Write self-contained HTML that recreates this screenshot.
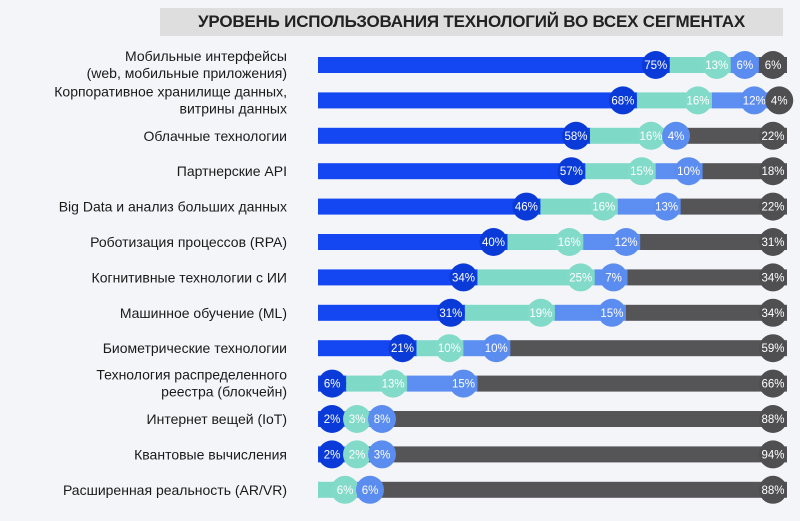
<!DOCTYPE html>
<html><head><meta charset="utf-8"><style>
body{margin:0;width:800px;height:521px;background:#f3f5f9;font-family:"Liberation Sans","Noto Sans CJK SC",sans-serif;overflow:hidden;position:relative}
#title{position:absolute;left:160px;top:8px;width:623px;height:28px;background:#dedede;font-weight:bold;font-size:17px;line-height:28px;text-align:center;color:#222;letter-spacing:-0.2px}
</style></head><body>
<div id="title">УРОВЕНЬ ИСПОЛЬЗОВАНИЯ ТЕХНОЛОГИЙ ВО ВСЕХ СЕГМЕНТАХ</div>
<svg id="chart" width="800" height="521" style="position:absolute;left:0;top:0"></svg>
<script>
const categories=[["Мобильные интерфейсы","(web, мобильные приложения)"],["Корпоративное хранилище данных,","витрины данных"],["Облачные технологии"],["Партнерские API"],["Big Data и анализ больших данных"],["Роботизация процессов (RPA)"],["Когнитивные технологии с ИИ"],["Машинное обучение (ML)"],["Биометрические технологии"],["Технология распределенного","реестра (блокчейн)"],["Интернет вещей (IoT)"],["Квантовые вычисления"],["Расширенная реальность (AR/VR)"]];
const series1=[75,68,58,57,46,40,34,31,21,6,2,2,0];
const series2=[13,16,16,15,16,16,25,19,10,13,3,2,6];
const series3=[6,12,4,10,13,12,7,15,10,15,8,3,6];
const series4=[6,4,22,18,22,31,34,34,59,66,88,94,88];
const NS="http://www.w3.org/2000/svg";
const svg=document.getElementById('chart');
const x0=318,W=469,r=14;
const ys=i=>65+i*35.4;
const barC=["#1446f2","#7fd9c7","#5d8ff2","#555558"];
const cirC=["#0a3bd8","#82dac8","#5b8cf0","#4f4f52"];
function mk(t,a){const e=document.createElementNS(NS,t);for(const k in a)e.setAttribute(k,a[k]);svg.appendChild(e);return e;}
categories.forEach((c,i)=>{
  const y=ys(i);
  const t=mk('text',{x:287,y:c.length>1?y-4:y+5,'text-anchor':'end','font-size':'14',fill:'#1a1a1a'});
  
  
  c.forEach((ln,j)=>{const s=document.createElementNS(NS,'tspan');s.setAttribute('x',287);if(j>0)s.setAttribute('dy',17);s.textContent=ln;t.appendChild(s);});
  const vals=[series1[i],series2[i],series3[i],series4[i]];
  const total=vals.reduce((a,b)=>a+b,0);
  const xs=v=>x0+v/total*W;
  let cum=0;
  vals.forEach((v,k)=>{const b=mk('rect',{x:xs(cum),y:y-8,width:v/total*W+(k<3?0.5:0),height:16,fill:barC[k]});
    
    
    cum+=v;});
  cum=0;let prev=vals[0]===0?x0+2:x0-11;
  vals.forEach((v,k)=>{cum+=v;if(v===0)return;
    let cx=Math.max(xs(cum)-r,prev+25);prev=cx;
    const g=mk('circle',{cx:cx,cy:y,r:r,fill:cirC[k]});
    
    
    const tx=mk('text',{x:cx,y:y+4,'text-anchor':'middle','font-size':'11.5',fill:'#fff'});
    
    
    tx.textContent=v+'%';});
});
</script>
</body></html>
